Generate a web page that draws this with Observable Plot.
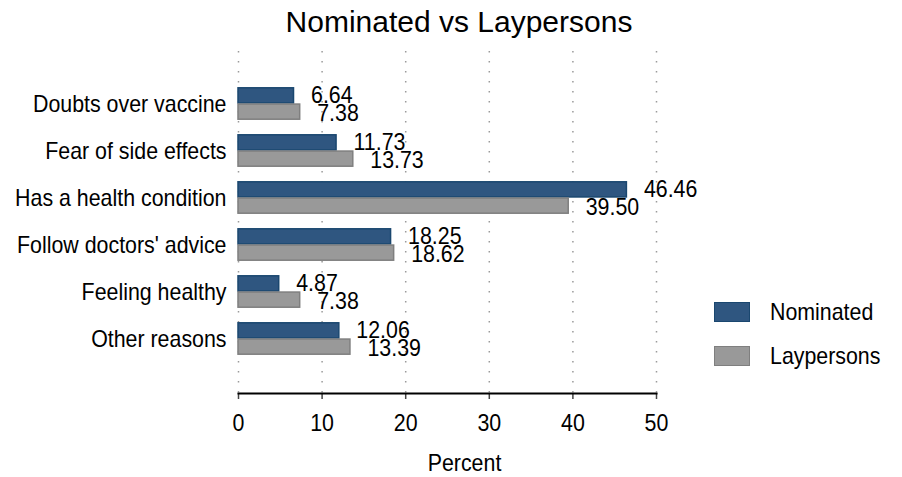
<!DOCTYPE html>
<html>
<head>
<meta charset="utf-8">
<script src="https://cdn.jsdelivr.net/npm/d3@7"></script>
<script src="https://cdn.jsdelivr.net/npm/@observablehq/plot@0.6"></script>
<style>
  html, body { margin: 0; padding: 0; background: #fff; }
  #wrap { position: relative; width: 902px; height: 477px; overflow: hidden; }
  #title { position: absolute; left: 259px; width: 400px; top: 7px; text-align: center;
           font-family: 'Liberation Sans', Arial, sans-serif; font-size: 30px; line-height: 30px; color: #000; white-space: nowrap; }
  #chart { position: absolute; left: 0; top: 48px; }
  .lg { position: absolute; left: 714px; width: 34px; height: 18px; }
  .lgt { position: absolute; left: 770px; font-family: 'Liberation Sans', Arial, sans-serif;
         font-size: 24px; line-height: 24px; color: #000; white-space: nowrap;
         transform: scaleX(0.89); transform-origin: 0 50%; }
</style>
</head>
<body>
<div id="wrap">
  <div id="title">Nominated vs Laypersons</div>
  <div id="chart"></div>
  <div class="lg" id="sw0" style="top:302px;"></div>
  <div class="lgt" id="lt0" style="top:300px;"></div>
  <div class="lg" id="sw1" style="top:346px;"></div>
  <div class="lgt" id="lt1" style="top:344px;"></div>
</div>
<script>
const categories = ["Doubts over vaccine", "Fear of side effects", "Has a health condition", "Follow doctors' advice", "Feeling healthy", "Other reasons"];
const nominated = [6.64, 11.73, 46.46, 18.25, 4.87, 12.06];
const laypersons = [7.38, 13.73, 39.50, 18.62, 7.38, 13.39];
const seriesNames = ["Nominated", "Laypersons"];
const seriesFill = ["#2f5680", "#999999"];
const seriesStroke = ["#1a476f", "#7f7f7f"];
const xTicks = [0, 10, 20, 30, 40, 50];

const rowsN = categories.map((c, i) => ({category: c, value: nominated[i]}));
const rowsL = categories.map((c, i) => ({category: c, value: laypersons[i]}));

const W = 902, H = 429, mT = 0, mB = 84, mL = 238, mR = 246;
const pi = 0.3, po = 0.82;
const innerH = H - mT - mB;
const step = innerH / (categories.length - pi + 2 * po);
const bw = step * (1 - pi);
const half = bw / 2;
const font = "'Liberation Sans', Arial, sans-serif";
const FS = 24;
const squeeze = 0.89;

const chart = Plot.plot({
  width: W, height: H,
  marginTop: mT, marginBottom: mB, marginLeft: mL, marginRight: mR,
  style: {fontFamily: font, fontSize: FS + "px", color: "#000", background: "#fff", overflow: "visible"},
  x: {domain: [0, 50], ticks: xTicks},
  y: {domain: categories, paddingInner: pi, paddingOuter: po, align: 0.5},
  marks: [
    Plot.gridX(xTicks, {stroke: "#9a9a9a", strokeOpacity: 1, strokeWidth: 1.5, strokeDasharray: "1.5,8.5", strokeDashoffset: -3}),
    Plot.ruleX(categories, {x: 0, y: d => d, stroke: "#8a8a8a", strokeWidth: 1.5, insetTop: -(step - bw) / 2, insetBottom: -(step - bw) / 2}),
    Plot.barX(rowsN, {x: d => d.value, y: "category", fill: seriesFill[0], stroke: seriesStroke[0], strokeWidth: 1.5, insetBottom: half + 0.6, insetTop: 0.8}),
    Plot.barX(rowsL, {x: d => d.value, y: "category", fill: seriesFill[1], stroke: seriesStroke[1], strokeWidth: 1.5, insetTop: half + 0.6, insetBottom: 0.8}),
    Plot.text(rowsN, {x: d => d.value, y: "category", text: d => d.value.toFixed(2), dx: 17, dy: -half / 2, textAnchor: "start", fill: "#000", fontSize: FS}),
    Plot.text(rowsL, {x: d => d.value, y: "category", text: d => d.value.toFixed(2), dx: 17, dy: half / 2 + 1, textAnchor: "start", fill: "#000", fontSize: FS}),
    Plot.axisY({tickSize: 0, tickPadding: 12, label: null, fontSize: FS}),
    Plot.axisX(xTicks, {tickSize: 6, tickPadding: 14, stroke: "#444", strokeWidth: 1.5, label: null, fontSize: FS}),
    Plot.frame({anchor: "bottom", stroke: "#000", strokeWidth: 2}),
    Plot.text(["Percent"], {frameAnchor: "bottom", dx: 17, dy: 70, fill: "#000", fontSize: FS, lineAnchor: "middle"})
  ]
});
document.getElementById("chart").appendChild(chart);

// condense glyphs horizontally (the reference uses tall, narrow lettering)
chart.querySelectorAll("text").forEach(t => {
  const len = t.getComputedTextLength();
  if (len > 0) {
    t.setAttribute("textLength", (len * squeeze).toFixed(2));
    t.setAttribute("lengthAdjust", "spacingAndGlyphs");
  }
});

for (let i = 0; i < 2; i++) {
  const sw = document.getElementById("sw" + i);
  sw.style.background = seriesFill[i];
  sw.style.border = "1px solid " + seriesStroke[i];
  document.getElementById("lt" + i).textContent = seriesNames[i];
}
</script>
</body>
</html>
